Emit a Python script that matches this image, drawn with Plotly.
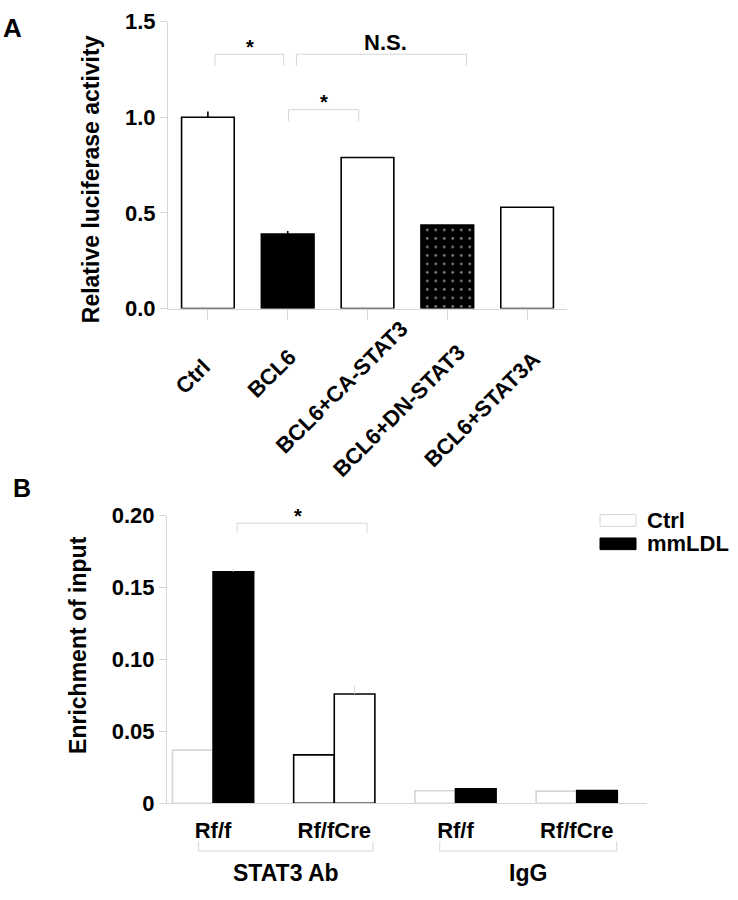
import plotly.graph_objects as go

# ---------------- Panel A data ----------------
a_categories = ["Ctrl", "BCL6", "BCL6+CA-STAT3", "BCL6+DN-STAT3", "BCL6+STAT3A"]
a_values = [1.0, 0.39, 0.79, 0.437, 0.53]
a_errors = [0.03, 0.016, 0.0, 0.0, 0.0]
a_yticks = [0.0, 0.5, 1.0, 1.5]
a_yticklabels = ["0.0", "0.5", "1.0", "1.5"]

# ---------------- Panel B data ----------------
b_ticklabels = ["Rf/f", "Rf/fCre", "Rf/f", "Rf/fCre"]
b_groups = ["STAT3 Ab", "IgG"]
b_ctrl = [0.037, 0.0337, 0.0088, 0.0085]
b_mmldl = [0.161, 0.076, 0.0101, 0.009]
b_ctrl_err = [0.0, 0.0, 0.0, 0.0]
b_mmldl_err = [0.002, 0.006, 0.0, 0.0]
b_yticks = [0, 0.05, 0.10, 0.15, 0.20]
b_yticklabels = ["0", "0.05", "0.10", "0.15", "0.20"]
b_series = ["Ctrl", "mmLDL"]

# ---------------- styling ----------------
W, H = 738, 900
FONT = "Liberation Sans, Arial, Helvetica, sans-serif"
GRAY = "#d6d6d6"
BLACK = "#000000"


def fx(px):
    return px / W


def fy(py):
    return 1 - py / H


b_x = list(range(len(b_ticklabels)))

fig = go.Figure()

# Panel A bars
a_fill = ["white", "black", "white", "black", "white"]
a_shape = ["", "", "", ".", ""]
fig.add_trace(go.Bar(
    x=a_categories, y=a_values, width=0.66,
    marker=dict(color=a_fill, line=dict(color=BLACK, width=1.6),
                pattern=dict(shape=a_shape, fgcolor="white", size=8.5,
                             solidity=0.08, fillmode="overlay")),
    error_y=dict(type="data", symmetric=False, array=a_errors,
                 arrayminus=[0] * len(a_errors), color=BLACK, thickness=1.6, width=0),
    xaxis="x", yaxis="y", showlegend=False,
))

# Panel B bars
fig.add_trace(go.Bar(
    name=b_series[0], x=b_x, y=b_ctrl,
    marker=dict(color="white", line=dict(color=[GRAY, BLACK, GRAY, GRAY], width=1.6)),
    error_y=dict(type="data", symmetric=False, array=b_ctrl_err,
                 arrayminus=[0] * 4, color=GRAY, thickness=1, width=0),
    xaxis="x2", yaxis="y2", showlegend=False,
))
fig.add_trace(go.Bar(
    name=b_series[1], x=b_x, y=b_mmldl,
    marker=dict(color=["black", "white", "black", "black"], line=dict(color=BLACK, width=1.6)),
    error_y=dict(type="data", symmetric=False, array=b_mmldl_err,
                 arrayminus=[0] * 4, color=GRAY, thickness=1, width=0),
    xaxis="x2", yaxis="y2", showlegend=False,
))

tickfont = dict(family=FONT, size=22, color=BLACK, weight="bold")

fig.update_layout(
    width=W, height=H, margin=dict(l=0, r=0, t=0, b=0),
    paper_bgcolor="white", plot_bgcolor="white",
    barmode="group", bargap=0.33, bargroupgap=0,
    font=dict(family=FONT, color=BLACK),
    xaxis=dict(domain=[fx(168), fx(567)], anchor="y", type="category",
               categoryorder="array", categoryarray=a_categories,
               range=[-0.5, 4.5], showline=True, linecolor=GRAY, linewidth=1,
               ticks="outside", ticklen=10, tickcolor=GRAY, showticklabels=False,
               showgrid=False, zeroline=False, fixedrange=True),
    yaxis=dict(domain=[fy(305), fy(10)], anchor="x", range=[0, 1.5],
               tickvals=a_yticks, ticktext=a_yticklabels, tickfont=tickfont,
               showline=True, linecolor=GRAY, linewidth=1, ticks="outside",
               ticklen=7, tickcolor=GRAY, showgrid=False, zeroline=False),
    xaxis2=dict(domain=[fx(167), fx(647)], anchor="y2", range=[-0.38, 3.58],
                tickvals=b_x, ticktext=b_ticklabels, tickfont=tickfont,
                showline=True, linecolor=GRAY, linewidth=1, ticks="",
                ticklabelstandoff=7, showgrid=False, zeroline=False),
    yaxis2=dict(domain=[fy(814), fy(518)], anchor="x2", range=[0, 0.2],
                tickvals=b_yticks, ticktext=b_yticklabels, tickfont=tickfont,
                showline=True, linecolor=GRAY, linewidth=1, ticks="outside",
                ticklen=7, tickcolor=GRAY, showgrid=False, zeroline=False),
)

ann = []
shapes = []
bold = lambda s: dict(family=FONT, size=s, color=BLACK, weight="bold")

# panel letters
ann.append(dict(text="A", x=fx(13), y=fy(16), xref="paper", yref="paper",
                showarrow=False, font=bold(26), xanchor="center", yanchor="middle"))
ann.append(dict(text="B", x=fx(22), y=fy(490), xref="paper", yref="paper",
                showarrow=False, font=bold(25), xanchor="center", yanchor="middle"))

# axis titles
ann.append(dict(text="Relative luciferase activity", x=fx(91), y=fy(172),
                xref="paper", yref="paper", textangle=-90, showarrow=False,
                font=bold(23), xanchor="center", yanchor="middle"))
ann.append(dict(text="Enrichment of input", x=fx(78), y=fy(651),
                xref="paper", yref="paper", textangle=-90, showarrow=False,
                font=bold(23), xanchor="center", yanchor="middle"))

# panel A rotated category labels (centre offsets in px from tick)
a_label_offsets = [(-15, 68), (-16, 65), (-26, 79), (-48, 102), (-45, 101)]
for cat, (dx, dy) in zip(a_categories, a_label_offsets):
    ann.append(dict(text=cat, x=cat, y=0, xref="x", yref="y", xshift=dx, yshift=-dy,
                    textangle=-45, showarrow=False, font=bold(22),
                    xanchor="center", yanchor="middle"))

# significance brackets, panel A (data coordinates)
a_brackets = [(0.09, 0.95, 1.33, 1.27), (1.11, 3.24, 1.33, 1.27), (1.01, 1.89, 1.04, 0.98)]
for x0, x1, yt, yb in a_brackets:
    for (xa, ya, xb, yb2) in [(x0, yb, x0, yt), (x0, yt, x1, yt), (x1, yt, x1, yb)]:
        shapes.append(dict(type="line", xref="x", yref="y", x0=xa, y0=ya, x1=xb, y1=yb2,
                           line=dict(color=GRAY, width=1)))
a_sig = [("*", 0.525, 1.37, 20), ("N.S.", 2.225, 1.39, 22), ("*", 1.46, 1.08, 20)]
for t, x, y, s in a_sig:
    ann.append(dict(text=t, x=x, y=y, xref="x", yref="y", showarrow=False,
                    font=bold(s), xanchor="center", yanchor="middle"))

# significance bracket, panel B
for (xa, ya, xb, yb2) in [(0.198, 0.188, 0.198, 0.1947), (0.198, 0.1947, 1.27, 0.1947),
                          (1.27, 0.1947, 1.27, 0.188)]:
    shapes.append(dict(type="line", xref="x2", yref="y2", x0=xa, y0=ya, x1=xb, y1=yb2,
                       line=dict(color=GRAY, width=1)))
ann.append(dict(text="*", x=0.70, y=0.200, xref="x2", yref="y2", showarrow=False,
                font=bold(20), xanchor="center", yanchor="middle"))

# group brackets under panel B
b_group_spans = [(-0.12, 1.32), (1.87, 3.33)]
for (x0, x1), g in zip(b_group_spans, b_groups):
    for (xa, ya, xb, yb2) in [(x0, 853, x0, 863), (x0, 863, x1, 863), (x1, 863, x1, 853)]:
        shapes.append(dict(type="line", xref="x2", yref="paper", x0=xa, y0=fy(ya),
                           x1=xb, y1=fy(yb2), line=dict(color=GRAY, width=1)))
    ann.append(dict(text=g, x=(x0 + x1) / 2, y=fy(886), xref="x2", yref="paper",
                    showarrow=False, font=bold(23), xanchor="center", yanchor="middle"))

# legend for panel B
leg_items = [(b_series[0], "white", GRAY, 523), (b_series[1], "black", BLACK, 547)]
for name, fill, line, cy in leg_items:
    shapes.append(dict(type="rect", xref="paper", yref="paper", x0=fx(600), x1=fx(636),
                       y0=fy(cy - 6), y1=fy(cy + 6), fillcolor=fill,
                       line=dict(color=line, width=1)))
    ann.append(dict(text=name, x=fx(645), y=fy(cy), xref="paper", yref="paper",
                    showarrow=False, font=bold(22), xanchor="left", yanchor="middle"))

fig.update_layout(annotations=ann, shapes=shapes)
fig.write_html("out.html", config={"displayModeBar": False},
               post_script="document.body.style.margin='0';document.body.style.overflow='hidden';")
